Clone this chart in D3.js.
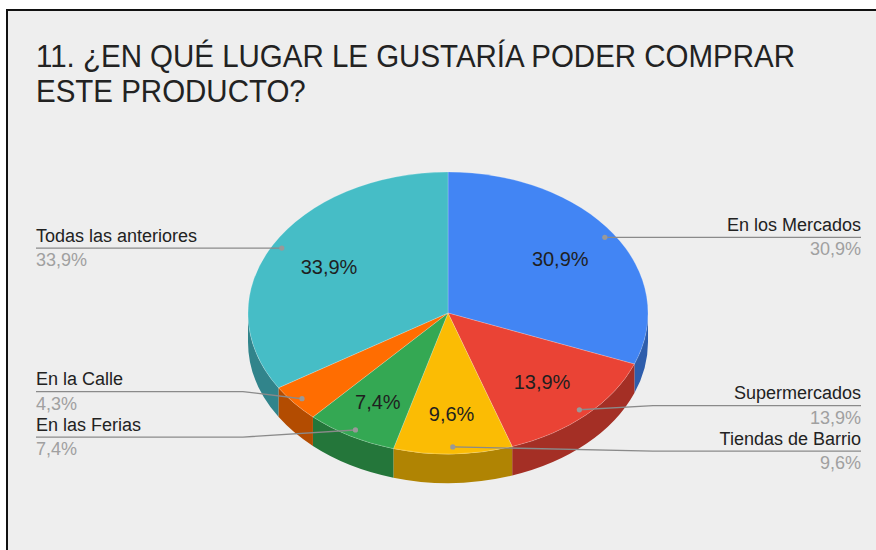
<!DOCTYPE html>
<meta charset="utf-8">
<script src="https://d3js.org/d3.v7.min.js"></script>
<style>
  body { margin: 0; background: #fff; }
  text { font-family: Arial, "Liberation Sans", sans-serif; }
</style>
<div id="chart"></div>
<script>
    const width = 876, height = 550;
    const titleLines = ["11. ¿EN QUÉ LUGAR LE GUSTARÍA PODER COMPRAR", "ESTE PRODUCTO?"];
    const categories = ["En los Mercados", "Supermercados", "Tiendas de Barrio", "En las Ferias", "En la Calle", "Todas las anteriores"];
    const values = [30.9, 13.9, 9.6, 7.4, 4.3, 33.9];
    const colors = ["#4285f4", "#ea4335", "#fbbc04", "#34a853", "#ff6d01", "#46bdc6"];

    // pie geometry (tilted ellipse + side depth)
    const cx = 448, cy = 313, rx = 200, ry = 141, depth = 29;
    const fmt = v => d3.format(".1f")(v).replace(".", ",") + "%";

    var svg = d3.select("#chart").append("svg")
        .attr("width", width)
        .attr("height", height);

    // frame
    svg.append("rect")
        .attr("x", 7).attr("y", 10)
        .attr("width", width + 20).attr("height", height + 20)
        .attr("fill", "#eeeeee")
        .attr("stroke", "#111")
        .attr("stroke-width", 2);

    svg.selectAll(".title")
        .data(titleLines)
        .enter().append("text")
        .attr("class", "title")
        .attr("transform", (d, i) => "translate(36," + (67 + i * 34.5) + ") scale(1,1.06)")
        .attr("font-size", 29.5)
        .attr("fill", "#222")
        .text(d => d);

    var color = d3.scaleOrdinal().domain(categories).range(colors);

    var data = categories.map((c, i) => ({name: c, value: values[i]}));
    var arcs = d3.pie().sort(null).value(d => d.value)(data);

    function pt(a, r = 1, dy = 0) {
        return [cx + rx * r * Math.sin(a), cy - ry * r * Math.cos(a) + dy];
    }

    // sides (only the front half, angles between PI/2 and 3PI/2)
    var sides = svg.append("g");
    arcs.forEach(d => {
        var s = Math.max(d.startAngle, Math.PI / 2),
            e = Math.min(d.endAngle, 3 * Math.PI / 2);
        if (e <= s) return;
        var p0 = pt(s), p1 = pt(e), q1 = pt(e, 1, depth), q0 = pt(s, 1, depth);
        sides.append("path")
            .attr("d", "M" + p0 + "A" + rx + "," + ry + " 0 0 1 " + p1 +
                "L" + q1 + "A" + rx + "," + ry + " 0 0 0 " + q0 + "Z")
            .attr("fill", d3.color(color(d.data.name)).darker(1));
    });

    // top faces
    svg.append("g").selectAll("path")
        .data(arcs)
        .enter().append("path")
        .attr("d", d => {
            var large = d.endAngle - d.startAngle > Math.PI ? 1 : 0;
            return "M" + cx + "," + cy + "L" + pt(d.startAngle) +
                "A" + rx + "," + ry + " 0 " + large + " 1 " + pt(d.endAngle) + "Z";
        })
        .attr("fill", d => color(d.data.name))
        .attr("stroke", "rgba(255,255,255,0.35)")
        .attr("stroke-width", 0.6);

    // inside labels (narrow slices sit a bit further out)
    var labelR = d => d.data.value < 12 ? 0.72 : 0.68;
    svg.append("g").selectAll("text")
        .data(arcs.filter(d => d.data.value >= 5))
        .enter().append("text")
        .attr("x", d => pt((d.startAngle + d.endAngle) / 2, labelR(d))[0])
        .attr("y", d => pt((d.startAngle + d.endAngle) / 2, labelR(d))[1])
        .attr("text-anchor", "middle")
        .attr("dominant-baseline", "central")
        .attr("font-size", 20)
        .attr("fill", "#1f1f1f")
        .text(d => fmt(d.data.value));

    // outside labels with leader lines
    var gap = 45.5;
    var outer = arcs.map(d => {
        var mid = (d.startAngle + d.endAngle) / 2;
        var dot = pt(mid, 0.95);
        return {d: d, dot: dot, y: dot[1], right: mid < Math.PI};
    });
    [true, false].forEach(side => {
        var list = outer.filter(o => o.right === side).sort((a, b) => a.y - b.y);
        for (var k = 0; k < 20; k++) {
            for (var i = 0; i < list.length - 1; i++) {
                var over = gap - (list[i + 1].y - list[i].y);
                if (over > 0) {
                    list[i].y -= over / 2;
                    list[i + 1].y += over / 2;
                }
            }
        }
    });

    var lab = svg.append("g");
    outer.forEach(o => {
        var bend = o.right ? cx + 205 : cx - 205,
            end = o.right ? 861 : 36;
        lab.append("polyline")
            .attr("points", [o.dot, [bend, o.y], [end, o.y]].join(" "))
            .attr("fill", "none")
            .attr("stroke", "#8a8a8a")
            .attr("stroke-width", 1.4);
        lab.append("circle")
            .attr("cx", o.dot[0]).attr("cy", o.dot[1])
            .attr("r", 2.6)
            .attr("fill", "#999");
        lab.append("text")
            .attr("x", end).attr("y", o.y - 6.5)
            .attr("text-anchor", o.right ? "end" : "start")
            .attr("font-size", 18)
            .attr("fill", "#222")
            .text(o.d.data.name);
        lab.append("text")
            .attr("x", end).attr("y", o.y + 18)
            .attr("text-anchor", o.right ? "end" : "start")
            .attr("font-size", 18)
            .attr("fill", "#a0a0a0")
            .text(fmt(o.d.data.value));
    });
</script>
